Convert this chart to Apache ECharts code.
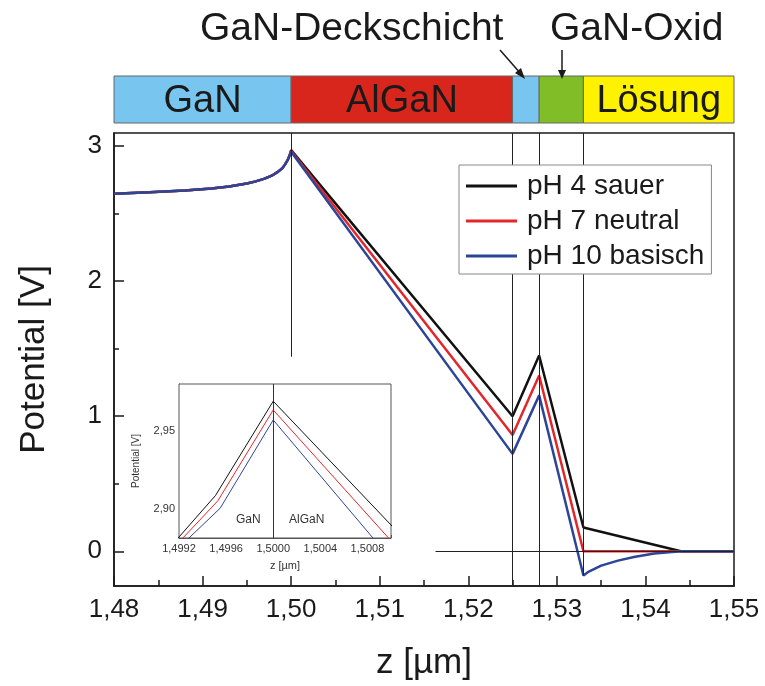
<!DOCTYPE html>
<html>
<head>
<meta charset="utf-8">
<script src="https://cdn.jsdelivr.net/npm/echarts@6/dist/echarts.min.js"></script>
<style>
html,body{margin:0;padding:0;background:#fff;}
#chart{width:765px;height:686px;}
</style>
</head>
<body>
<div id="chart"></div>
<script>
// ---------- data ----------
const seriesNames = ['pH 4 sauer', 'pH 7 neutral', 'pH 10 basisch'];

// shared GaN bulk curve (all three pH values coincide here)
const gaNZ = [1.480, 1.484, 1.488, 1.491, 1.493, 1.495, 1.496, 1.497, 1.4978, 1.4985, 1.499, 1.4993, 1.4996, 1.4998];
const gaNV = [2.647, 2.657, 2.670, 2.685, 2.700, 2.722, 2.738, 2.758, 2.780, 2.808, 2.835, 2.862, 2.895, 2.925];

// remaining points per series
const blackZ = [1.500, 1.525, 1.528, 1.533, 1.544, 1.550];
const blackV = [2.969, 1.000, 1.449, 0.176, 0.000, 0.000];
const redZ   = [1.500, 1.525, 1.528, 1.533, 1.550];
const redV   = [2.963, 0.860, 1.301, 0.000, 0.000];
const blueZ  = [1.500, 1.525, 1.528, 1.533, 1.5335, 1.535, 1.5369, 1.5387, 1.541, 1.544, 1.550];
const blueV  = [2.957, 0.721, 1.154, -0.179, -0.155, -0.106, -0.069, -0.042, -0.017, 0.000, 0.000];

// layer boundaries (vertical guide lines) and how far down they reach
const guideZ      = [1.500, 1.525, 1.528, 1.533];
const guideBottom = [1.44, -0.257, -0.257, -0.179];
const zeroLineStart = 1.5163;

// layer stack drawn above the plot
const layerStart = [1.480, 1.500, 1.525, 1.528, 1.533];
const layerEnd   = [1.500, 1.525, 1.528, 1.533, 1.550];
const layerNames = ['GaN', 'AlGaN', '', '', 'Lösung'];

// ticks
const xMajorTicks = [1.48, 1.49, 1.50, 1.51, 1.52, 1.53, 1.54, 1.55];
const xMinorTicks = [1.485, 1.495, 1.505, 1.515, 1.525, 1.535, 1.545];
const yMajorTicks = [0, 1, 2, 3];
const yMinorTicks = [0.5, 1.5, 2.5];

// inset (zoom around the GaN/AlGaN interface)
const insetBlackZ = [1.4990, 1.49951, 1.5000, 1.5012];
const insetBlackV = [2.865, 2.9087, 2.969, 2.874];
const insetRedZ   = [1.4990, 1.49953, 1.5000, 1.5012];
const insetRedV   = [2.8628, 2.9053, 2.9634, 2.863];
const insetBlueZ  = [1.4990, 1.49955, 1.5000, 1.5012];
const insetBlueV  = [2.861, 2.9006, 2.957, 2.850];
const insetXTicks = [1.4992, 1.4996, 1.5000, 1.5004, 1.5008];
const insetXMinor = [1.4994, 1.4998, 1.5002, 1.5006, 1.5010];
const insetYTicks = [2.90, 2.95];

// ---------- styles ----------
const FONT = '"Liberation Sans", Arial, Helvetica, sans-serif';
const TXT = '#1a1a1a';
const colors = ['#111111', '#e3262a', '#2d4597'];
const layerColors = ['#78c5ef', '#d9261c', '#78c5ef', '#80bd26', '#fff200'];

function pairs(zs, vs) { return zs.map((z, i) => [z, vs[i]]); }
function comma(v, d) { return Number(v).toFixed(d).replace('.', ','); }

const mainData = [
  pairs(gaNZ.concat(blackZ), gaNV.concat(blackV)),
  pairs(gaNZ.concat(redZ), gaNV.concat(redV)),
  pairs(gaNZ.concat(blueZ), gaNV.concat(blueV))
];
const insetData = [
  pairs(insetBlackZ, insetBlackV),
  pairs(insetRedZ, insetRedV),
  pairs(insetBlueZ, insetBlueV)
];

const Y_MIN = -0.257, Y_MAX = 3.096;

const guideLines = guideZ.map((z, i) => [{coord: [z, Y_MAX]}, {coord: [z, guideBottom[i]]}]);
guideLines.push([{coord: [zeroLineStart, 0]}, {coord: [1.55, 0]}]);

const chart = echarts.init(document.getElementById('chart'), null, {renderer: 'canvas'});

const option = {
  animation: false,
  backgroundColor: '#fff',
  textStyle: {fontFamily: FONT},
  grid: [
    {left: 114, right: 31, top: 133, bottom: 97, show: true, borderColor: '#1a1a1a', borderWidth: 1.5, backgroundColor: 'transparent'},
    {left: 114, right: 31, top: 76, height: 47},
    {left: 179, top: 384, width: 212, height: 154, show: true, borderColor: '#555', borderWidth: 1, backgroundColor: '#fff', z: 5}
  ],
  xAxis: [
    {gridIndex: 0, type: 'value', min: 1.48, max: 1.55, position: 'bottom',
     axisLine: {show: true, onZero: false, lineStyle: {color: TXT, width: 1.5}},
     axisTick: {show: true, inside: true, length: 10, customValues: xMajorTicks, lineStyle: {color: TXT, width: 1.5}},
     axisLabel: {customValues: xMajorTicks, formatter: v => comma(v, 2), fontSize: 26, color: TXT, margin: 11, fontFamily: FONT},
     splitLine: {show: false},
     name: 'z [µm]', nameLocation: 'middle', nameGap: 60,
     nameTextStyle: {fontSize: 35, color: TXT, fontFamily: FONT}},
    {gridIndex: 0, type: 'value', min: 1.48, max: 1.55, position: 'bottom',
     axisLine: {show: false, onZero: false},
     axisTick: {show: true, inside: true, length: 6, customValues: xMinorTicks, lineStyle: {color: TXT, width: 1.5}},
     axisLabel: {show: false}, splitLine: {show: false}},
    {gridIndex: 1, type: 'value', min: 1.48, max: 1.55, show: false},
    {gridIndex: 2, type: 'value', min: 1.4992, max: 1.5010, position: 'bottom',
     axisLine: {show: true, onZero: false, lineStyle: {color: '#555', width: 1}},
     axisTick: {show: true, inside: true, length: 3, customValues: insetXTicks.concat(insetXMinor), lineStyle: {color: '#555'}},
     axisLabel: {customValues: insetXTicks, formatter: v => comma(v, 4), fontSize: 11, color: '#333', margin: 5, fontFamily: FONT},
     splitLine: {show: false},
     name: 'z [µm]', nameLocation: 'middle', nameGap: 22,
     nameTextStyle: {fontSize: 11, color: '#333', fontFamily: FONT}}
  ],
  yAxis: [
    {gridIndex: 0, type: 'value', min: Y_MIN, max: Y_MAX, position: 'left',
     axisLine: {show: true, onZero: false, lineStyle: {color: TXT, width: 1.5}},
     axisTick: {show: true, inside: true, length: 10, customValues: yMajorTicks, lineStyle: {color: TXT, width: 1.5}},
     axisLabel: {customValues: yMajorTicks, formatter: v => String(v), fontSize: 26, color: TXT, margin: 12, fontFamily: FONT},
     splitLine: {show: false},
     name: 'Potential [V]', nameLocation: 'middle', nameGap: 62, nameRotate: 90,
     nameTextStyle: {fontSize: 35, color: TXT, fontFamily: FONT}},
    {gridIndex: 0, type: 'value', min: Y_MIN, max: Y_MAX, position: 'left',
     axisLine: {show: false, onZero: false},
     axisTick: {show: true, inside: true, length: 5, customValues: yMinorTicks, lineStyle: {color: TXT, width: 1.5}},
     axisLabel: {show: false}, splitLine: {show: false}},
    {gridIndex: 1, type: 'value', min: 0, max: 1, show: false},
    {gridIndex: 2, type: 'value', min: 2.8815, max: 2.98, position: 'left',
     axisLine: {show: true, onZero: false, lineStyle: {color: '#555', width: 1}},
     axisTick: {show: true, inside: true, length: 3, customValues: insetYTicks, lineStyle: {color: '#555'}},
     axisLabel: {customValues: insetYTicks, formatter: v => comma(v, 2), fontSize: 11, color: '#333', margin: 4, fontFamily: FONT},
     splitLine: {show: false},
     name: 'Potential [V]', nameLocation: 'middle', nameGap: 38, nameRotate: 90,
     nameTextStyle: {fontSize: 10, color: '#333', fontFamily: FONT}}
  ],
  legend: {
    data: seriesNames,
    orient: 'vertical', left: 459, top: 165,
    padding: [7, 7, 4, 7],
    backgroundColor: '#fff', borderColor: '#888', borderWidth: 1, borderRadius: 0,
    icon: 'rect', itemWidth: 51, itemHeight: 3, itemGap: 7,
    textStyle: {fontSize: 28, color: TXT, fontFamily: FONT, padding: [0, 0, 0, 5]},
    z: 10
  },
  series: [
    {name: 'guides', type: 'line', xAxisIndex: 0, yAxisIndex: 0, data: [], z: 1,
     markLine: {silent: true, symbol: ['none', 'none'], label: {show: false},
       lineStyle: {color: '#222', width: 1, type: 'solid'}, emphasis: {disabled: true},
       data: guideLines}},
    ...seriesNames.map((n, i) => ({
      name: n, type: 'line', xAxisIndex: 0, yAxisIndex: 0, data: mainData[i],
      showSymbol: false, symbol: 'none', z: 2 + i,
      lineStyle: {color: colors[i], width: 2.5}, itemStyle: {color: colors[i]}
    })),
    {name: 'layers', type: 'custom', xAxisIndex: 2, yAxisIndex: 2,
     data: layerStart.map((s, i) => [s, layerEnd[i], i]),
     renderItem: function (params, api) {
       const i = api.value(2);
       const p0 = api.coord([api.value(0), 1]);
       const p1 = api.coord([api.value(1), 0]);
       return {type: 'group', children: [
         {type: 'rect', shape: {x: p0[0], y: p0[1], width: p1[0] - p0[0], height: p1[1] - p0[1]},
          style: {fill: layerColors[i], stroke: '#666', lineWidth: 1}},
         {type: 'text', style: {text: layerNames[i], x: (p0[0] + p1[0]) / 2, y: (p0[1] + p1[1]) / 2 + 2,
          align: 'center', verticalAlign: 'middle', fontSize: 38, fontFamily: FONT, fill: TXT}}
       ]};
     }},
    {name: 'insetGuide', type: 'line', xAxisIndex: 3, yAxisIndex: 3, data: [], z: 6,
     markLine: {silent: true, symbol: ['none', 'none'], label: {show: false},
       lineStyle: {color: '#333', width: 1, type: 'solid'}, emphasis: {disabled: true},
       data: [[{coord: [1.5000, 2.8815]}, {coord: [1.5000, 2.98]}]]}},
    ...seriesNames.map((n, i) => ({
      name: 'inset ' + n, type: 'line', xAxisIndex: 3, yAxisIndex: 3, data: insetData[i],
      showSymbol: false, symbol: 'none', z: 7 + i, clip: true,
      lineStyle: {color: colors[i], width: 1}, itemStyle: {color: colors[i]}
    }))
  ],
  graphic: [
    {type: 'text', left: 200, top: 10, z: 20, style: {text: 'GaN-Deckschicht', fontSize: 39, fontFamily: FONT, fill: TXT}},
    {type: 'text', left: 550, top: 10, z: 20, style: {text: 'GaN-Oxid', fontSize: 39, fontFamily: FONT, fill: TXT}},
    {type: 'line', z: 20, shape: {x1: 500, y1: 50, x2: 521, y2: 74}, style: {stroke: TXT, lineWidth: 1.5}},
    {type: 'polygon', z: 20, shape: {points: [[525, 79], [515, 73], [521, 68]]}, style: {fill: TXT}},
    {type: 'line', z: 20, shape: {x1: 562, y1: 50, x2: 562, y2: 72}, style: {stroke: TXT, lineWidth: 1.5}},
    {type: 'polygon', z: 20, shape: {points: [[562, 79], [558, 70], [566, 70]]}, style: {fill: TXT}},
    {type: 'text', left: 236, top: 514, z: 20, style: {text: 'GaN', fontSize: 12, fontFamily: FONT, fill: '#333'}},
    {type: 'text', left: 289, top: 514, z: 20, style: {text: 'AlGaN', fontSize: 12, fontFamily: FONT, fill: '#333'}}
  ]
};
chart.setOption(option);
</script>
</body>
</html>
